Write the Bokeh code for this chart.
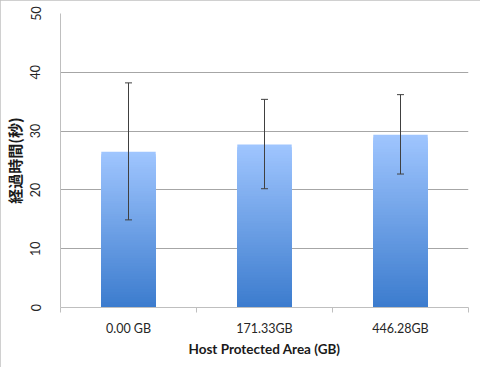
import numpy as np
from bokeh.plotting import figure
from bokeh.models import Range1d, FixedTicker, Whisker, ColumnDataSource, TeeHead
from bokeh.embed import file_html
from bokeh.resources import INLINE

# ---- data ----
categories = ["0.00 GB", "171.33GB", "446.28GB"]
elapsed = [26.5, 27.7, 29.4]
err_upper = [38.2, 35.4, 36.2]
err_lower = [14.9, 20.2, 22.7]
y_ticks = [0, 10, 20, 30, 40, 50]

x_title = "Host Protected Area (GB)"
y_title = "経過時間(秒)"

centers = [i + 0.5 for i in range(len(categories))]

p = figure(width=480, height=367, output_backend="svg", toolbar_location=None,
           x_range=Range1d(0, len(categories)), y_range=Range1d(0, 50),
           min_border_left=60, min_border_right=12, min_border_top=13, min_border_bottom=60)
p.styles = {"outline": "1px solid #c0c0c0", "outline-offset": "-1px"}
p.outline_line_color = None
p.background_fill_color = "white"
p.border_fill_color = "white"

# gradient bars drawn as nested rects (largest first, painter's order)
top_rgb = np.array([160, 198, 255])
bot_rgb = np.array([60, 124, 206])
n = 60
xs, tops, cols = [], [], []
for k in range(n, 0, -1):
    t = (k - 0.5) / n
    rgb = (bot_rgb + (top_rgb - bot_rgb) * t).astype(int)
    for c, v in zip(centers, elapsed):
        xs.append(c)
        tops.append(v * k / n)
        cols.append("#%02x%02x%02x" % tuple(rgb))
bar_src = ColumnDataSource(dict(x=xs, top=tops, color=cols))
p.vbar(x="x", bottom=0, top="top", width=0.4, fill_color="color",
       line_color=None, source=bar_src)

err_src = ColumnDataSource(dict(x=centers, upper=err_upper, lower=err_lower))
w = Whisker(base="x", upper="upper", lower="lower", source=err_src,
            line_color="#404040", line_width=1, level="overlay",
            upper_head=TeeHead(size=7, line_color="#404040", line_width=1),
            lower_head=TeeHead(size=7, line_color="#404040", line_width=1))
p.add_layout(w)

# axes
xa = p.xaxis[0]
xa.ticker = FixedTicker(ticks=centers, minor_ticks=list(range(len(categories) + 1)))
xa.major_label_overrides = {c: lab for c, lab in zip(centers, categories)}
xa.major_tick_line_color = None
xa.minor_tick_line_color = "#bfbfbf"
xa.minor_tick_out = 5
xa.minor_tick_in = 0
xa.axis_line_color = "#bfbfbf"
xa.major_label_text_font = "Lato"
xa.major_label_text_font_size = "12.5px"
xa.major_label_text_color = "#262626"
xa.major_label_standoff = 7
xa.axis_label = x_title
xa.axis_label_text_font = "Lato"
xa.axis_label_text_font_style = "bold"
xa.axis_label_text_font_size = "13.5px"
xa.axis_label_text_color = "#1a1a1a"
xa.axis_label_standoff = 2

ya = p.yaxis[0]
ya.ticker = FixedTicker(ticks=y_ticks)
ya.major_tick_line_color = None
ya.minor_tick_line_color = None
ya.axis_line_color = "#bfbfbf"
ya.major_label_orientation = "vertical"
ya.major_label_text_font = "Lato"
ya.major_label_text_font_size = "12.5px"
ya.major_label_text_color = "#262626"
ya.major_label_standoff = 14
ya.axis_label = y_title
ya.axis_label_text_font = "Noto Sans CJK JP"
ya.axis_label_text_font_style = "bold"
ya.axis_label_text_font_size = "15px"
ya.axis_label_text_color = "#1a1a1a"
ya.axis_label_standoff = 3

p.xgrid.grid_line_color = None
p.ygrid.grid_line_color = "#a6a6a6"
p.ygrid.grid_line_width = 1

open("out.html", "w").write(file_html(p, INLINE))
